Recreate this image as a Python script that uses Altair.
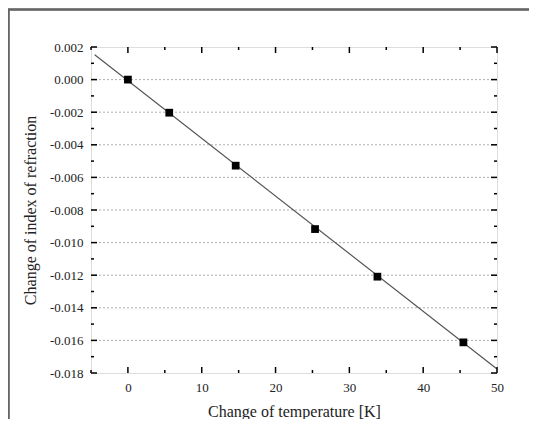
import altair as alt
import pandas as pd

# measured points
temp_x = [0.0, 5.6, 14.6, 25.35, 33.8, 45.45]
index_y = [0.0, -0.00203, -0.00528, -0.00917, -0.01209, -0.01612]
# linear fit line endpoints
fit_x = [-4.5, 50.0]
fit_y = [0.00152, -0.01775]

x_major = [0, 10, 20, 30, 40, 50]
x_minor = [-5, 5, 15, 25, 35, 45]
y_major = [0.002, 0.0, -0.002, -0.004, -0.006, -0.008, -0.010, -0.012, -0.014, -0.016, -0.018]
y_minor = [0.001, -0.001, -0.003, -0.005, -0.007, -0.009, -0.011, -0.013, -0.015, -0.017]
y_grid = [0.0, -0.002, -0.004, -0.006, -0.008, -0.010, -0.012, -0.014, -0.016]

W, H = 406, 326
FONT = "Liberation Serif"

xs = alt.Scale(domain=[-5, 50], nice=False, zero=False)
ys = alt.Scale(domain=[-0.018, 0.002], nice=False, zero=False)

pts = pd.DataFrame({"x": temp_x, "y": index_y})
fit = pd.DataFrame({"x": fit_x, "y": fit_y})
grid = pd.DataFrame({"y": y_grid})
xmaj = pd.DataFrame({"x": x_major})
xmin = pd.DataFrame({"x": x_minor})
ymaj = pd.DataFrame({"y": y_major})
ymin = pd.DataFrame({"y": y_minor})

xaxis = alt.Axis(values=x_major, format="d", title="Change of temperature [K]", titlePadding=9)
yaxis = alt.Axis(values=y_major,
                 labelExpr="(datum.value < -0.0000001 ? '-' : '') + format(abs(datum.value), '.3f')",
                 title="Change of index of refraction", titlePadding=11)

X = lambda: alt.X("x:Q", scale=xs, axis=xaxis)
Y = lambda: alt.Y("y:Q", scale=ys, axis=yaxis)

base = alt.Chart(pts).mark_point(opacity=0).encode(x=X(), y=Y())

gridlines = alt.Chart(grid).mark_rule(color="#999", strokeDash=[2, 2], strokeWidth=0.8).encode(y=Y())

line = alt.Chart(fit).mark_line(color="#555", strokeWidth=1.2).encode(x=X(), y=Y())

points = alt.Chart(pts).mark_square(color="black", size=60, opacity=1).encode(x=X(), y=Y())

def xticks(df, ln):
    bot = alt.Chart(df).mark_rule(color="black", strokeWidth=1.5).encode(
        x=X(), y=alt.value(H), y2=alt.value(H - ln))
    top = alt.Chart(df).mark_rule(color="black", strokeWidth=1.5).encode(
        x=X(), y=alt.value(0), y2=alt.value(ln))
    return [bot, top]

def yticks(df, ln):
    left = alt.Chart(df).mark_rule(color="black", strokeWidth=1.5).encode(
        y=Y(), x=alt.value(0), x2=alt.value(ln))
    right = alt.Chart(df).mark_rule(color="black", strokeWidth=1.5).encode(
        y=Y(), x=alt.value(W), x2=alt.value(W - ln))
    return [left, right]

RP, BP = 32, 46

frame_top = alt.Chart(pts).mark_rule(color="#666", strokeWidth=1.5).encode(
    x=alt.value(-83), x2=alt.value(W + RP), y=alt.value(-37.5))
frame_left = alt.Chart(pts).mark_rule(color="#666", strokeWidth=1.5).encode(
    x=alt.value(-82.5), y=alt.value(-38), y2=alt.value(H + BP))

layers = [base, gridlines, line, points] + xticks(xmaj, 6) + xticks(xmin, 3) \
    + yticks(ymaj, 6) + yticks(ymin, 3) + [frame_top, frame_left]

chart = alt.layer(*layers).properties(
    width=W, height=H,
    autosize=alt.AutoSizeParams(type="none"),
    padding={"left": 83, "top": 39, "right": RP, "bottom": BP},
).configure_view(stroke="black", strokeWidth=1.8).configure(background="white").configure_axis(
    ticks=False, domain=False, grid=False, labelPadding=8, labelFont=FONT, labelFontSize=13,
    labelColor="#222", labelOverlap=False, labelFlush=False, titleFont=FONT, titleFontSize=16,
    titleFontWeight="normal", titleColor="#222")

chart.save("out.html", embed_options={"renderer": "svg", "actions": False})
